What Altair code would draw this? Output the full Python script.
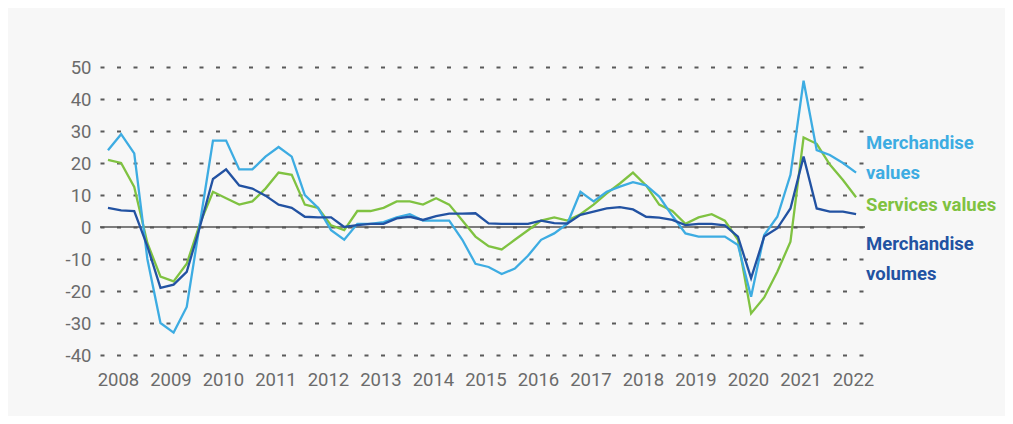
import altair as alt
import pandas as pd

# ---- data (year-on-year % change, quarterly, 2008Q1 .. 2022Q2) ----
years = list(range(2008, 2023))
quarters = [(y, q) for y in years for q in (1, 2, 3, 4)][:58]

merch_values = [24, 29, 23, -10, -30, -33, -25, 1,
                27, 27, 18, 18, 22, 25, 22, 10,
                6, -1, -4, 1, 1, 1.5, 3, 4,
                2, 2, 2, -4, -11.5, -12.5, -14.7, -13,
                -9, -4, -2, 1, 11, 8, 11, 12.6,
                14, 13, 9.5, 3.5, -2, -3, -3, -3,
                -5.6, -21.8, -2.5, 3.2, 16.3, 45.7, 24, 22.5,
                20, 17]
services_values = [21, 20, 12.5, -5, -15.5, -17, -11.5, 1,
                   11, 9, 7, 8, 12, 17, 16.3, 7,
                   6, 0.5, -1, 5, 5, 6, 8, 8,
                   7, 9, 7, 2, -3, -6, -7, -4,
                   -1, 2, 3, 2, 4, 7, 10.5, 13.6,
                   17, 13, 7, 5, 1, 3, 4, 2,
                   -4, -27, -22, -14, -4.6, 28, 26, 19.5,
                   14.7, 9.3]
merch_volumes = [6, 5.2, 5, -6, -19, -18, -14, 0,
                 15, 18, 13, 12, 9.8, 7, 6, 3.2,
                 3, 3, 0, 0.6, 1, 1, 2.7, 3.2,
                 2.2, 3.4, 4.2, 4.2, 4.3, 1.1, 1, 1,
                 1, 2, 1.2, 1.1, 3.8, 4.8, 5.8, 6.2,
                 5.5, 3.2, 2.9, 2.2, 0.6, 1, 1, 0.5,
                 -3, -16, -3, -0.4, 5.8, 22, 5.8, 4.8,
                 4.8, 4]
y_ticks = [-40, -30, -20, -10, 0, 10, 20, 30, 40, 50]

series_names = ["Services values", "Merchandise values", "Merchandise volumes"]
series_data = [services_values, merch_values, merch_volumes]
series_colors = ["#7fc241", "#3dace2", "#2252a2"]

rows = []
for name, vals in zip(series_names, series_data):
    for (y, q), v in zip(quarters, vals):
        rows.append({"series": name, "t": y + (q - 1) / 4, "value": v})
df = pd.DataFrame(rows)

FONT = "Roboto, sans-serif"
W, H = 765, 288
x_scale = alt.Scale(domain=[2007.848, 2022.42], nice=False, zero=False)
y_scale = alt.Scale(domain=[-40, 50], nice=False)

x_axis = alt.Axis(values=[y + 0.19 for y in years],
                  labelExpr="floor(datum.value)",
                  grid=False, ticks=False, domain=False,
                  labelFont=FONT, labelFontSize=18.5,
                  labelColor="#6b6b6b", labelPadding=15,
                  labelOverlap=False, labelFlush=False)
y_axis = alt.Axis(values=y_ticks, grid=True, gridDash=[4, 12.5],
                  gridColor="#5a5a5a", gridWidth=2,
                  ticks=False, domain=False, labelOverlap=False,
                  labelExpr="datum.value < 0 ? '-' + abs(datum.value) : '' + datum.value",
                  labelFont=FONT, labelFontSize=18.5,
                  labelColor="#6b6b6b", labelPadding=9)

base = alt.Chart(df)

zero = alt.Chart(pd.DataFrame({"v": [0]})).mark_rule(
    color="#555555", strokeWidth=1.6).encode(
        y=alt.Y("v:Q", scale=y_scale, axis=y_axis, title=None))

layers = [zero]
for name, col in zip(series_names, series_colors):
    layers.append(
        base.transform_filter(alt.datum.series == name)
        .mark_line(color=col, strokeWidth=2.3)
        .encode(x=alt.X("t:Q", scale=x_scale, axis=x_axis, title=None),
                y=alt.Y("value:Q", scale=y_scale, axis=y_axis, title=None))
    )

# series labels (direct labelling at the right end)
label_text = [["Merchandise", "values"], ["Services values"], ["Merchandise", "volumes"]]
label_colors = [series_colors[1], series_colors[0], series_colors[2]]
label_tops = [76, 138, 177]
for txt, col, top in zip(label_text, label_colors, label_tops):
    layers.append(
        alt.Chart(pd.DataFrame({"label": [txt]})).mark_text(
            align="left", baseline="middle", font=FONT, fontSize=18.5,
            fontWeight="bold", color=col, lineHeight=30
        ).encode(x=alt.value(W + 1), y=alt.value(top), text="label:N")
    )

chart = alt.layer(*layers).properties(
    width=W, height=H,
    autosize=alt.AutoSizeParams(type="none"),
    padding={"left": 92, "top": 59, "right": 140, "bottom": 61},
    background="#f7f7f7",
).configure_view(stroke=None)

chart.save("out.html", embed_options={"renderer": "svg", "actions": False})
